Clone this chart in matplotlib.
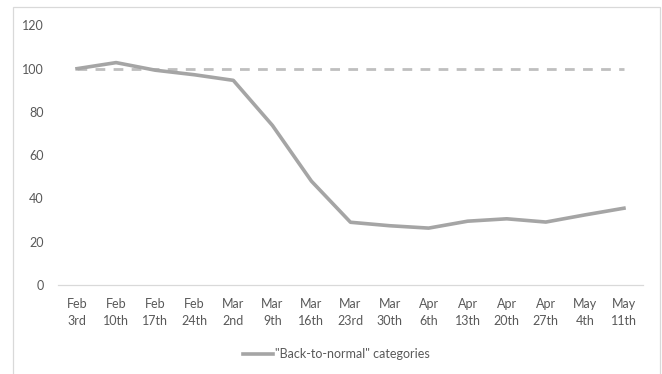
import matplotlib

matplotlib.use("Agg")
import matplotlib.pyplot as plt
from matplotlib.patches import Rectangle

weeks = ["Feb\n3rd", "Feb\n10th", "Feb\n17th", "Feb\n24th", "Mar\n2nd", "Mar\n9th", "Mar\n16th",
         "Mar\n23rd", "Mar\n30th", "Apr\n6th", "Apr\n13th", "Apr\n20th", "Apr\n27th", "May\n4th", "May\n11th"]
back_to_normal = [100, 102.8, 99.3, 97.2, 94.6, 73.8, 48, 29, 27.4, 26.3, 29.5, 30.6, 29.1, 32.4, 35.5]
baseline = [100] * len(weeks)
y_ticks = [0, 20, 40, 60, 80, 100, 120]

plt.rcParams["font.family"] = ["Lato", "DejaVu Sans"]
text_color = "#595959"

fig = plt.figure(figsize=(6.62, 3.74), dpi=100, facecolor="white")
fig.patches.append(Rectangle((12.5 / 662, -0.05), 647.5 / 662, 1 - 7.5 / 374 + 0.05,
                             transform=fig.transFigure, fill=False, edgecolor="#D9D9D9", linewidth=0.9))

ax = fig.add_axes([57.5 / 662, 89 / 374, 586 / 662, 259.6 / 374])
x = range(len(weeks))
ax.plot(x, baseline, color="#BFBFBF", linewidth=2.0, linestyle=(0, (3.5, 3)), zorder=2)
line, = ax.plot(x, back_to_normal, color="#A5A5A5", linewidth=2.6, zorder=3,
                label='"Back-to-normal" categories', solid_joinstyle="round")

ax.set_xlim(-0.5, len(weeks) - 0.5)
ax.set_ylim(0, 120)
ax.set_yticks(y_ticks)
ax.set_xticks(list(x))
ax.set_xticklabels(weeks, linespacing=1.55)
ax.tick_params(axis="both", length=0, colors=text_color, labelsize=9)
ax.tick_params(axis="y", pad=10)
ax.tick_params(axis="x", pad=9)
for side in ("top", "right", "left"):
    ax.spines[side].set_visible(False)
ax.spines["bottom"].set_color("#D9D9D9")
ax.spines["bottom"].set_linewidth(0.9)

fig.legend(handles=[line], loc="center", bbox_to_anchor=(0.508, 1 - 354 / 374), frameon=False,
           fontsize=9, labelcolor=text_color, handlelength=2.4, handletextpad=0.2)

fig.savefig("out.png", dpi=100, facecolor="white")
